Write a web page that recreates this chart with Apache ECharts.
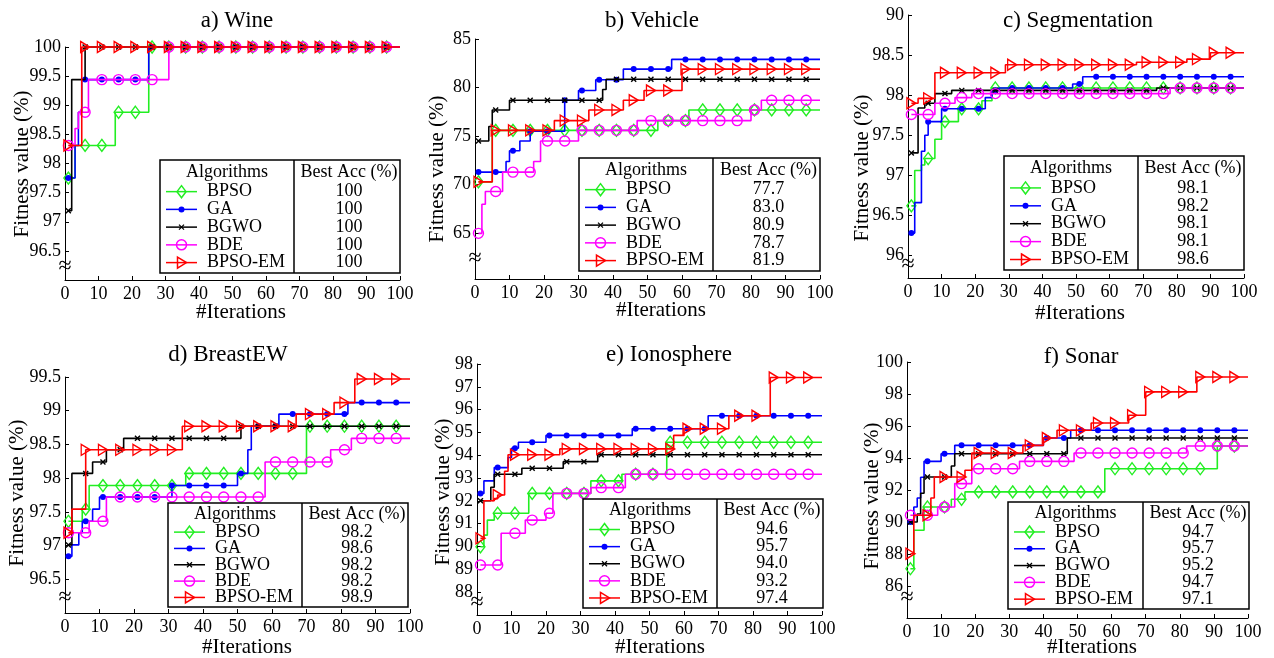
<!DOCTYPE html>
<html>
<head>
<meta charset="utf-8">
<script src="https://cdn.jsdelivr.net/npm/echarts@6/dist/echarts.min.js"></script>
<style>
  html, body { margin: 0; padding: 0; background: #fff; }
  #chart { width: 1274px; height: 658px; }
</style>
</head>
<body>
<div id="chart"></div>
<script>
const algorithms = ['BPSO', 'GA', 'BGWO', 'BDE', 'BPSO-EM'];
const titles = ['a) Wine', 'b) Vehicle', 'c) Segmentation', 'd) BreastEW', 'e) Ionosphere', 'f) Sonar'];
const xTicks = [0, 10, 20, 30, 40, 50, 60, 70, 80, 90, 100];
const markerIters = [1, 6, 11, 16, 21, 26, 31, 36, 41, 46, 51, 56, 61, 66, 71, 76, 81, 86, 91, 96];

// y axis ranges and ticks
const wineRange = [96, 100];
const wineTicks = [96.5, 97, 97.5, 98, 98.5, 99, 99.5, 100];
const wineTickLabels = ['96.5', '97', '97.5', '98', '98.5', '99', '99.5', '100'];
const vehRange = [60.3, 85];
const vehTicks = [65, 70, 75, 80, 85];
const vehTickLabels = ['65', '70', '75', '80', '85'];
const segRange = [95.72, 99];
const segTicks = [96, 96.5, 97, 97.5, 98, 98.5, 99];
const segTickLabels = ['96', '96.5', '97', '97.5', '98', '98.5', '90'];
const brRange = [96, 99.5];
const brTicks = [96.5, 97, 97.5, 98, 98.5, 99, 99.5];
const brTickLabels = ['96.5', '97', '97.5', '98', '98.5', '99', '99.5'];
const ionRange = [87, 98];
const ionTicks = [88, 89, 90, 91, 92, 93, 94, 95, 96, 97, 98];
const ionTickLabels = ['88', '89', '90', '91', '92', '93', '94', '95', '96', '97', '98'];
const sonRange = [84, 100];
const sonTicks = [86, 88, 90, 92, 94, 96, 98, 100];
const sonTickLabels = ['86', '88', '90', '92', '94', '96', '98', '100'];

// best accuracy column of each table
const wineBest = ['100', '100', '100', '100', '100'];
const vehBest = ['77.7', '83.0', '80.9', '78.7', '81.9'];
const segBest = ['98.1', '98.2', '98.1', '98.1', '98.6'];
const brBest = ['98.2', '98.6', '98.2', '98.2', '98.9'];
const ionBest = ['94.6', '95.7', '94.0', '93.2', '97.4'];
const sonBest = ['94.7', '95.7', '95.2', '94.7', '97.1'];

// convergence curves: [iteration, fitness] where the value changes
const wineBPSO = [[1, 97.75], [3, 98.31], [15, 98.88], [25, 100]];
const wineGA = [[1, 97.75], [3, 98.31], [4, 98.88], [5, 99.44], [25, 100]];
const wineBGWO = [[1, 97.19], [2, 99.44], [6, 100]];
const wineBDE = [[1, 98.31], [3, 98.6], [4, 98.88], [7, 99.44], [31, 100]];
const wineEM = [[1, 98.31], [5, 100]];

const vehBPSO = [[1, 70.3], [5, 75.6], [53, 76.6], [62, 77.7]];
const vehGA = [[1, 71.3], [9, 72.4], [10, 73.5], [13, 74.5], [16, 75.5], [26, 78.7], [30, 79.7], [35, 80.8], [43, 81.9], [57, 82.9]];
const vehBGWO = [[1, 74.5], [4, 76.0], [5, 77.7], [10, 78.7], [37, 79.8], [38, 80.85]];
const vehBDE = [[1, 65.0], [2, 68.0], [3, 69.3], [8, 71.3], [17, 72.4], [19, 74.5], [30, 75.6], [47, 76.6], [80, 77.7], [83, 78.7]];
const vehEM = [[1, 70.3], [5, 75.6], [23, 76.6], [33, 77.7], [43, 78.7], [49, 79.7], [60, 81.9]];

const segBPSO = [[1, 96.62], [2, 97.06], [4, 97.13], [5, 97.21], [8, 97.45], [10, 97.67], [15, 97.83], [22, 97.93], [25, 98.09]];
const segGA = [[1, 96.28], [2, 96.66], [4, 97.3], [5, 97.5], [6, 97.67], [10, 97.83], [23, 97.97], [25, 98.06], [27, 98.09], [49, 98.14], [52, 98.23]];
const segBGWO = [[1, 97.28], [3, 97.84], [5, 97.9], [8, 98.02], [13, 98.06], [74, 98.09]];
const segBDE = [[1, 97.76], [8, 97.9], [14, 97.97], [19, 98.02], [78, 98.09]];
const segEM = [[1, 97.9], [3, 97.96], [8, 98.28], [29, 98.38], [68, 98.41], [83, 98.45], [90, 98.53]];

const brBPSO = [[1, 97.36], [5, 97.54], [7, 97.89], [35, 98.07], [70, 98.77]];
const brGA = [[1, 96.84], [2, 97.01], [4, 97.19], [5, 97.36], [8, 97.54], [10, 97.72], [31, 97.89], [50, 98.07], [53, 98.42], [54, 98.77], [62, 98.95], [82, 99.12]];
const brBGWO = [[1, 97.01], [2, 98.07], [8, 98.24], [12, 98.42], [17, 98.59], [51, 98.77]];
const brBDE = [[1, 97.19], [7, 97.36], [12, 97.72], [58, 98.24], [77, 98.42], [83, 98.59]];
const brEM = [[1, 97.19], [2, 97.54], [6, 98.42], [34, 98.77], [67, 98.95], [78, 99.12], [84, 99.47]];

const ionBPSO = [[1, 89.99], [2, 90.5], [3, 91.16], [5, 91.46], [15, 92.33], [33, 92.88], [42, 93.17], [55, 94.57]];
const ionGA = [[1, 92.33], [2, 92.88], [5, 93.46], [9, 93.9], [10, 94.31], [12, 94.57], [20, 94.87], [45, 95.16], [67, 95.73]];
const ionBGWO = [[1, 92.01], [4, 92.6], [5, 93.17], [13, 93.43], [25, 93.72], [35, 94.02]];
const ionBDE = [[1, 89.19], [7, 90.58], [14, 91.16], [20, 91.46], [22, 92.33], [33, 92.58], [43, 93.17]];
const ionEM = [[1, 90.36], [2, 92.01], [5, 92.1], [6, 92.26], [8, 93.3], [9, 94.02], [24, 94.28], [57, 94.87], [60, 95.16], [73, 95.73], [85, 97.41]];

const sonBPSO = [[1, 87.08], [2, 89.48], [5, 90.94], [13, 91.42], [17, 91.88], [58, 93.33], [91, 94.75]];
const sonGA = [[1, 90.0], [2, 90.94], [3, 91.5], [4, 92.8], [5, 93.79], [10, 94.27], [14, 94.79], [40, 95.25], [48, 95.73]];
const sonBGWO = [[1, 90.0], [3, 90.5], [4, 91.8], [5, 92.81], [13, 93.5], [14, 94.27], [47, 95.25]];
const sonBDE = [[1, 90.42], [9, 90.94], [14, 92.4], [19, 93.33], [33, 93.79], [49, 94.31], [82, 94.75]];
const sonEM = [[1, 88.02], [2, 90.42], [7, 91.5], [8, 92.81], [17, 93.23], [19, 94.31], [34, 94.79], [40, 95.25], [44, 95.73], [54, 96.19], [65, 96.67], [70, 98.13], [85, 99.06]];

const FONT = '"Liberation Serif", "Times New Roman", serif';
const TICK_SIZE = 18;
const LEGEND_SIZE = 18;

const panels = [
  { title: titles[0], range: wineRange, ticks: wineTicks, tickLabels: wineTickLabels, best: wineBest,
    curves: [wineBPSO, wineGA, wineBGWO, wineBDE, wineEM],
    grid: { left: 65, top: 47, width: 335, height: 233 },
    titlePos: [237, 21], yName: [22, 164], xName: [241, 312], breakY: 267,
    box: { x: 160, y: 160, w: 240, h: 113, div: 294 } },
  { title: titles[1], range: vehRange, ticks: vehTicks, tickLabels: vehTickLabels, best: vehBest,
    curves: [vehBPSO, vehGA, vehBGWO, vehBDE, vehEM],
    grid: { left: 475, top: 39, width: 345, height: 240 },
    titlePos: [652, 21], yName: [437, 169], xName: [661, 310], breakY: 259,
    box: { x: 579, y: 158, w: 241, h: 113, div: 713 } },
  { title: titles[2], range: segRange, ticks: segTicks, tickLabels: segTickLabels, best: segBest,
    curves: [segBPSO, segGA, segBGWO, segBDE, segEM],
    grid: { left: 908, top: 15, width: 336, height: 263 },
    titlePos: [1078, 21], yName: [862, 168], xName: [1080, 313], breakY: 265,
    box: { x: 1004, y: 156, w: 240, h: 114, div: 1138 } },
  { title: titles[3], range: brRange, ticks: brTicks, tickLabels: brTickLabels, best: brBest,
    curves: [brBPSO, brGA, brBGWO, brBDE, brEM],
    grid: { left: 65, top: 377, width: 345, height: 236 },
    titlePos: [228, 355], yName: [17, 493], xName: [247, 647], breakY: 598,
    box: { x: 168, y: 503, w: 240, h: 104, div: 302 } },
  { title: titles[4], range: ionRange, ticks: ionTicks, tickLabels: ionTickLabels, best: ionBest,
    curves: [ionBPSO, ionGA, ionBGWO, ionBDE, ionEM],
    grid: { left: 477, top: 364, width: 345, height: 251 },
    titlePos: [669, 355], yName: [443, 492], xName: [660, 647], breakY: 603,
    box: { x: 583, y: 499, w: 240, h: 109, div: 717 } },
  { title: titles[5], range: sonRange, ticks: sonTicks, tickLabels: sonTickLabels, best: sonBest,
    curves: [sonBPSO, sonGA, sonBGWO, sonBDE, sonEM],
    grid: { left: 907, top: 362, width: 341, height: 256 },
    titlePos: [1081, 357], yName: [872, 496], xName: [1092, 647], breakY: 598,
    box: { x: 1008, y: 502, w: 241, h: 107, div: 1143 } }
];

const styles = [
  { color: '#22ee22', symbol: 'diamond', size: [9, 12], hollow: true },
  { color: '#0000ff', symbol: 'circle', size: 6, hollow: false },
  { color: '#000000', symbol: 'path://M0,0L10,10M0,10L10,0', size: 5, hollow: true },
  { color: '#ff00ff', symbol: 'circle', size: 10, hollow: true },
  { color: '#ff0000', symbol: 'path://M0,0L10,5L0,10Z', size: [9, 11], hollow: true }
];

// value of a step curve at a given iteration
function valueAt(curve, it) {
  let v = curve[0][1];
  curve.forEach(function (p) { if (p[0] <= it) v = p[1]; });
  return v;
}

function label(text, x, y, size, align, rotate) {
  return {
    type: 'text', x: x, y: y, rotation: rotate || 0, z: 100, silent: true,
    style: { text: text, x: 0, y: 0, fill: '#000', font: size + 'px ' + FONT,
      align: align, verticalAlign: 'middle', textAlign: align, textVerticalAlign: 'middle' }
  };
}

function legendMarker(j, cx, cy) {
  const c = styles[j].color;
  const st = { fill: 'none', stroke: c, lineWidth: 1.5 };
  if (j === 0) return { type: 'polygon', z: 101, shape: { points: [[cx, cy - 6], [cx + 4.5, cy], [cx, cy + 6], [cx - 4.5, cy]] }, style: st };
  if (j === 1) return { type: 'circle', z: 101, shape: { cx: cx, cy: cy, r: 3 }, style: { fill: c } };
  if (j === 2) return { type: 'group', z: 101, children: [
    { type: 'line', z: 101, shape: { x1: cx - 2.5, y1: cy - 2.5, x2: cx + 2.5, y2: cy + 2.5 }, style: { stroke: c, lineWidth: 1.3 } },
    { type: 'line', z: 101, shape: { x1: cx - 2.5, y1: cy + 2.5, x2: cx + 2.5, y2: cy - 2.5 }, style: { stroke: c, lineWidth: 1.3 } }
  ] };
  if (j === 3) return { type: 'circle', z: 101, shape: { cx: cx, cy: cy, r: 5 }, style: st };
  return { type: 'polygon', z: 101, shape: { points: [[cx - 4, cy - 5.5], [cx + 5, cy], [cx - 4, cy + 5.5]] }, style: st };
}

function legendTable(p) {
  const b = p.box;
  const out = [];
  out.push({ type: 'rect', z: 99, shape: { x: b.x, y: b.y, width: b.w, height: b.h }, style: { fill: '#fff', stroke: '#000', lineWidth: 1.5 } });
  out.push({ type: 'line', z: 100, shape: { x1: b.div, y1: b.y, x2: b.div, y2: b.y + b.h }, style: { stroke: '#000', lineWidth: 1.5 } });
  const lc = (b.x + b.div) / 2;
  const rc = (b.div + b.x + b.w) / 2 + 2;
  out.push(label('Algorithms', lc, b.y + b.h * 0.105, LEGEND_SIZE, 'center'));
  out.push(label('Best Acc (%)', rc, b.y + b.h * 0.105, LEGEND_SIZE, 'center'));
  algorithms.forEach(function (name, j) {
    const y = b.y + b.h * (0.28 + 0.157 * j);
    out.push({ type: 'line', z: 100, shape: { x1: b.x + 6, y1: y, x2: b.x + 37, y2: y }, style: { stroke: styles[j].color, lineWidth: 1.5 } });
    out.push(legendMarker(j, b.x + 21.5, y));
    out.push(label(name, b.x + 47, y, LEGEND_SIZE, 'left'));
    out.push(label(p.best[j], rc, y, LEGEND_SIZE, 'center'));
  });
  return out;
}

const grids = [], xAxes = [], yAxes = [], series = [], graphics = [];

panels.forEach(function (p, i) {
  grids.push(Object.assign({ outerBoundsMode: 'none', containLabel: false }, p.grid));
  xAxes.push({
    gridIndex: i, type: 'value', min: 0, max: 100, interval: 10,
    axisLine: { show: true, onZero: false, lineStyle: { color: '#000', width: 1 } },
    axisTick: { show: true, inside: true, length: 4, lineStyle: { color: '#000' } },
    axisLabel: { fontFamily: FONT, fontSize: TICK_SIZE, color: '#000', margin: 5,
      formatter: function (v) { return xTicks.indexOf(v) >= 0 ? String(v) : ''; } },
    splitLine: { show: false }
  });
  yAxes.push({
    gridIndex: i, type: 'value', min: p.range[0], max: p.range[1],
    axisLine: { show: true, onZero: false, lineStyle: { color: '#000', width: 1 } },
    axisTick: { show: true, inside: true, length: 4, customValues: p.ticks, lineStyle: { color: '#000' } },
    axisLabel: { customValues: p.ticks, fontFamily: FONT, fontSize: TICK_SIZE, color: '#000', margin: 4,
      formatter: function (v) {
        for (let k = 0; k < p.ticks.length; k++) if (Math.abs(p.ticks[k] - v) < 1e-6) return p.tickLabels[k];
        return '';
      } },
    splitLine: { show: false }
  });

  p.curves.forEach(function (curve, j) {
    const s = styles[j];
    series.push({
      type: 'line', name: algorithms[j], xAxisIndex: i, yAxisIndex: i,
      data: curve.concat([[100, curve[curve.length - 1][1]]]),
      step: 'end', symbol: 'none', showSymbol: false, clip: false, silent: true, z: 2 + j,
      lineStyle: { color: s.color, width: 1.6 }
    });
    series.push({
      type: 'scatter', name: algorithms[j], xAxisIndex: i, yAxisIndex: i,
      data: markerIters.map(function (it) { return [it, valueAt(curve, it)]; }),
      symbol: s.symbol, symbolSize: s.size, clip: false, silent: true, z: 2 + j,
      itemStyle: { color: s.hollow ? 'rgba(0,0,0,0)' : s.color, borderColor: s.color, borderWidth: j === 1 ? 0 : 1.4, opacity: 1 }
    });
  });

  graphics.push(label(p.title, p.titlePos[0], p.titlePos[1], 23, 'center'));
  graphics.push(label('Fitness value (%)', p.yName[0], p.yName[1], 21, 'center', Math.PI / 2));
  graphics.push(label('#Iterations', p.xName[0], p.xName[1], 21, 'center'));
  graphics.push(label('\u2248', p.grid.left, p.breakY, 24, 'center'));
  legendTable(p).forEach(function (g) { graphics.push(g); });
});

const chart = echarts.init(document.getElementById('chart'), null, { renderer: 'canvas' });
chart.setOption({
  animation: false,
  backgroundColor: '#fff',
  grid: grids,
  xAxis: xAxes,
  yAxis: yAxes,
  series: series,
  graphic: { elements: graphics }
});
</script>
</body>
</html>
